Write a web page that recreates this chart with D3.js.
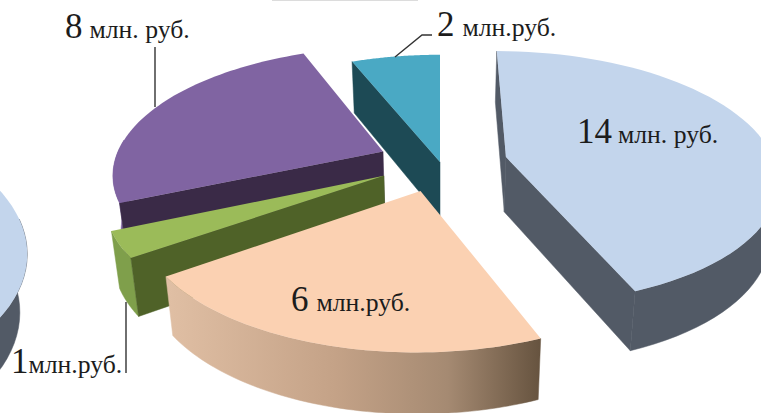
<!DOCTYPE html>
<html>
<head>
<meta charset="utf-8">
<script src="https://cdn.jsdelivr.net/npm/d3@7"></script>
<style>
  html, body { margin: 0; padding: 0; background: #fff; }
  svg { display: block; }
  text { font-family: "Liberation Serif", serif; fill: #1c1c1c; }
</style>
</head>
<body>
<div id="chart"></div>
<script>
// slice sizes (they differ a bit from the printed labels)
const sliceValues = [13.57, 6.6, 1.0, 7.85, 1.9];
const leftPieValues = [14, 17]; // second chart, cut off by the left edge

const labelNumbers = ['14', '6', '8', '2', '1'];
const labelUnits = ['млн. руб.', 'млн.руб.', 'млн. руб.', 'млн.руб.', 'млн.руб.'];

const W = 761, H = 413;

// tilted plane with mild perspective
const xPlane = d3.scaleLinear().domain([0, 1]).range([0, 268]);
const yPlane = d3.scaleLinear().domain([0, 1]).range([0, 124]);
const horizonC = 0.162, planeY = 160, mainCx = 440, leftCx = -269;
const depth = 55, shrink = 0.025;

// where each exploded slice has its tip, in plane units
const tips = [[0.247, -0.024], [-0.07, 0.24], [-0.205, 0.125], [-0.215, -0.07], [0, 0.016]];

const tops = ['#c3d5ec', '#fbd1b2', '#9bbb59', '#8064a2', '#4aa9c4'];
const walls = ['#525a66', '#7a6350', '#4f6228', '#3a2a47', '#1d4a55'];
const rims = ['#525a66', 'url(#peachRim)', '#7f9f4b', '#7a5f9c', '#1d4a55'];

function project(X, Y, cx) {
  const w = 1 - horizonC * Y;
  return { x: cx + xPlane(X) / w, y: planeY + yPlane(Y) / w, w };
}
function drop(p, cx) {
  return { x: cx + (p.x - cx) * (1 - shrink), y: p.y + depth / Math.sqrt(p.w) };
}
function rimPoint(tip, a, cx) {
  return project(tip[0] + Math.sin(a), tip[1] - Math.cos(a), cx);
}
const line = d3.line().x(d => d.x).y(d => d.y);
const closed = pts => line(pts) + 'Z';

function shoelace(p) {
  return d3.sum(p, (d, i) => { const n = p[(i + 1) % p.length]; return d.x * n.y - n.x * d.y; });
}

const svg = d3.select('#chart').append('svg').attr('width', W).attr('height', H);

const grad = svg.append('defs').append('linearGradient')
  .attr('id', 'peachRim').attr('gradientUnits', 'userSpaceOnUse')
  .attr('x1', 167).attr('x2', 541).attr('y1', 0).attr('y2', 0);
grad.selectAll('stop')
  .data([[0, '#e0bfa4'], [0.45, '#c4a287'], [0.75, '#a58a72'], [1, '#66533f']])
  .join('stop').attr('offset', d => d[0]).attr('stop-color', d => d[1]);

function drawSlice(d, tip, cx, top, wall, rim) {
  const g = svg.append('g');
  const apex = project(tip[0], tip[1], cx);
  const angles = d3.range(0, 61).map(i => d.startAngle + (d.endAngle - d.startAngle) * i / 60);
  const arc = angles.map(a => rimPoint(tip, a, cx));
  const arcLow = arc.map(p => drop(p, cx));
  const apexLow = drop(apex, cx);

  // outer wall, front part only so nothing dark fringes the back edge
  const front = d3.range(0, 61).filter(i => -Math.cos(angles[i]) > -0.1);
  if (front.length > 1) {
    const frontTop = front.map(i => arc[i]);
    const frontLow = front.map(i => arcLow[i]).reverse();
    g.append('path').attr('d', closed(frontTop.concat(frontLow)))
      .attr('fill', rim).attr('stroke', rim).attr('stroke-width', 0.5);
  }

  // only the flat cut faces turned to the viewer
  const startFace = [apex, arc[0], arcLow[0], apexLow];
  const endFace = [apex, arc[60], arcLow[60], apexLow];
  [[startFace, shoelace(startFace) < 0], [endFace, shoelace(endFace) > 0]].forEach(([face, shown]) => {
    if (shown) g.append('path').attr('d', closed(face))
      .attr('fill', wall).attr('stroke', wall).attr('stroke-width', 0.5);
  });

  g.append('path').attr('d', closed([apex].concat(arc))).attr('fill', top);
}

const pie = d3.pie().sort(null);
const slices = pie(sliceValues);

// left fragment first, then main slices back to front
drawSlice(pie(leftPieValues)[0], [0, 0.5], leftCx, tops[0], walls[0], rims[0]);
[4, 3, 2, 1, 0].forEach(i => drawSlice(slices[i], tips[i], mainCx, tops[i], walls[i], rims[i]));

// faint line left over at the top edge
svg.append('line').attr('x1', 272).attr('x2', 418).attr('y1', 0.5).attr('y2', 0.5)
  .attr('stroke', '#dcdcdc').attr('stroke-width', 1);

// leader lines
const leaders = [
  [[155, 47], [155, 107]],
  [[432, 35], [422, 35], [395, 57]],
  [[126, 302], [126, 373]]
];
svg.append('g').selectAll('path').data(leaders).join('path')
  .attr('d', d => d3.line()(d)).attr('fill', 'none')
  .attr('stroke', '#333').attr('stroke-width', 1.4);

// labels: number in big type, unit smaller
const labelPos = [[577, 143, 6], [291, 311, 8], [65, 38, 7], [437, 36, 8], [11, 373, 0]];
const lab = svg.append('g').selectAll('text').data(labelNumbers).join('text')
  .attr('x', (d, i) => labelPos[i][0]).attr('y', (d, i) => labelPos[i][1]);
lab.append('tspan').attr('font-size', 35).text(d => d);
lab.append('tspan').attr('font-size', 25.7).attr('dx', (d, i) => labelPos[i][2])
  .text((d, i) => labelUnits[i]);
</script>
</body>
</html>
